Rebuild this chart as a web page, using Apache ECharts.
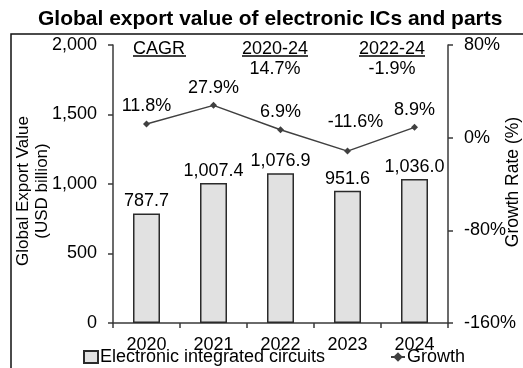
<!DOCTYPE html>
<html>
<head>
<meta charset="utf-8">
<script src="https://cdn.jsdelivr.net/npm/echarts@6/dist/echarts.min.js"></script>
<style>
  html, body { margin: 0; padding: 0; background: #fff; }
  #chart { width: 523px; height: 368px; }
</style>
</head>
<body>
<div id="chart"></div>
<script>
// Export values of electronic integrated circuits and year-on-year growth
const years = ['2020', '2021', '2022', '2023', '2024'];
const exportValues = [787.7, 1007.4, 1076.9, 951.6, 1036.0];
const growthRates = [11.8, 27.9, 6.9, -11.6, 8.9];
const valueTicks = { min: 0, max: 2000, interval: 500 };
const rateTicks = { min: -160, max: 80, interval: 80 };
const cagrHeader = 'CAGR';
const cagrPeriods = ['2020-24', '2022-24'];
const cagrValues = ['14.7%', '-1.9%'];

const FONT = '"Liberation Sans", Arial, sans-serif';
const INK = '#000';
const LINE = '#3a3a3a';

const fmtValue = v => Number(v).toLocaleString('en-US', { minimumFractionDigits: 1, maximumFractionDigits: 1 });
const fmtTick = v => Number(v).toLocaleString('en-US');

// the 2023 growth label sits up and to the right of its point
const growthData = growthRates.map((v, i) => i === 3
  ? { value: v, label: { offset: [8, -12] } }
  : v);

const textBase = { fontFamily: FONT, fontSize: 18, fill: INK };

// CAGR header row, period headings with underlines and their rates
const cagrCols = [159, 275, 392];
const graphic = [
  { type: 'rect', z: -1, shape: { x: 11, y: 34, width: 560, height: 400 },
    style: { fill: 'none', stroke: '#111', lineWidth: 1.5 } },
  { type: 'text', x: cagrCols[0], y: 49, style: Object.assign({ text: cagrHeader, align: 'center', verticalAlign: 'middle' }, textBase) },
  { type: 'line', shape: { x1: 133, y1: 56, x2: 186, y2: 56 }, style: { stroke: INK, lineWidth: 1.5 } }
];
cagrPeriods.forEach((p, i) => {
  const cx = cagrCols[i + 1];
  graphic.push(
    { type: 'text', x: cx, y: 49, style: Object.assign({ text: p, align: 'center', verticalAlign: 'middle' }, textBase) },
    { type: 'line', shape: { x1: cx - 33, y1: 56, x2: cx + 33, y2: 56 }, style: { stroke: INK, lineWidth: 1.5 } },
    { type: 'text', x: cx, y: 69, style: Object.assign({ text: cagrValues[i], align: 'center', verticalAlign: 'middle' }, textBase) }
  );
});

const chart = echarts.init(document.getElementById('chart'), null, { renderer: 'canvas' });
chart.setOption({
  animation: false,
  backgroundColor: '#fff',
  textStyle: { fontFamily: FONT },
  title: {
    text: 'Global export value of electronic ICs and parts',
    left: 38, top: 9, padding: 0,
    textStyle: { fontFamily: FONT, fontSize: 21, fontWeight: 'bold', color: INK }
  },
  legend: [
    {
      data: [{ name: 'Electronic integrated circuits', icon: 'rect' }],
      left: 83, top: 348, padding: 0,
      itemWidth: 14, itemHeight: 12, itemGap: 0,
      textStyle: { fontFamily: FONT, fontSize: 18, color: INK, padding: [0, 0, 0, -3] }
    },
    {
      data: ['Growth'],
      left: 390, top: 348, padding: 0,
      itemWidth: 14, itemHeight: 12,
      textStyle: { fontFamily: FONT, fontSize: 18, color: INK, padding: [0, 0, 0, -3] }
    }
  ],
  grid: { left: 113, right: 75, top: 45, bottom: 45, containLabel: false, outerBoundsMode: 'none' },
  xAxis: {
    type: 'category',
    data: years,
    boundaryGap: true,
    axisLine: { lineStyle: { color: LINE, width: 1.5 } },
    axisTick: { show: true, length: 5, inside: false, alignWithLabel: false, lineStyle: { color: LINE, width: 1.5 } },
    axisLabel: { fontFamily: FONT, fontSize: 18, color: INK, margin: 13 },
    splitLine: { show: false }
  },
  yAxis: [
    {
      type: 'value',
      min: valueTicks.min, max: valueTicks.max, interval: valueTicks.interval,
      name: 'Global Export Value\n(USD billion)',
      nameLocation: 'middle', nameRotate: 90, nameGap: 61, nameMoveOverlap: false,
      nameTextStyle: { fontFamily: FONT, fontSize: 17, color: INK, lineHeight: 19, padding: [0, 14, 0, 0] },
      axisLine: { show: true, lineStyle: { color: LINE, width: 1.5 } },
      axisTick: { show: true, length: 5, lineStyle: { color: LINE, width: 1.5 } },
      axisLabel: { fontFamily: FONT, fontSize: 18, color: INK, margin: 16, formatter: fmtTick },
      splitLine: { show: false }
    },
    {
      type: 'value',
      position: 'right',
      min: rateTicks.min, max: rateTicks.max, interval: rateTicks.interval,
      name: 'Growth Rate (%)',
      nameLocation: 'middle', nameRotate: 90, nameGap: 56, nameMoveOverlap: false,
      nameTextStyle: { fontFamily: FONT, fontSize: 17.5, color: INK, padding: [0, 0, 0, 4] },
      axisLine: { show: true, lineStyle: { color: LINE, width: 1.5 } },
      axisTick: { show: true, length: 5, lineStyle: { color: LINE, width: 1.5 } },
      axisLabel: { fontFamily: FONT, fontSize: 18, color: INK, margin: 16, formatter: '{value}%' },
      splitLine: { show: false }
    }
  ],
  series: [
    {
      name: 'Electronic integrated circuits',
      type: 'bar',
      data: exportValues,
      barWidth: 27,
      itemStyle: { color: '#e1e1e1', borderColor: '#2a2a2a', borderWidth: 1.5 },
      label: {
        show: true, position: 'top', distance: 3,
        fontFamily: FONT, fontSize: 18, color: INK,
        formatter: p => fmtValue(p.value)
      }
    },
    {
      name: 'Growth',
      type: 'line',
      yAxisIndex: 1,
      data: growthData,
      symbol: 'diamond',
      symbolSize: 7,
      lineStyle: { color: '#404040', width: 1.5 },
      itemStyle: { color: '#404040' },
      label: {
        show: true, position: 'top', distance: 5,
        fontFamily: FONT, fontSize: 18, color: INK,
        formatter: p => Number(p.value).toFixed(1) + '%'
      }
    }
  ],
  graphic: graphic
});
</script>
</body>
</html>
